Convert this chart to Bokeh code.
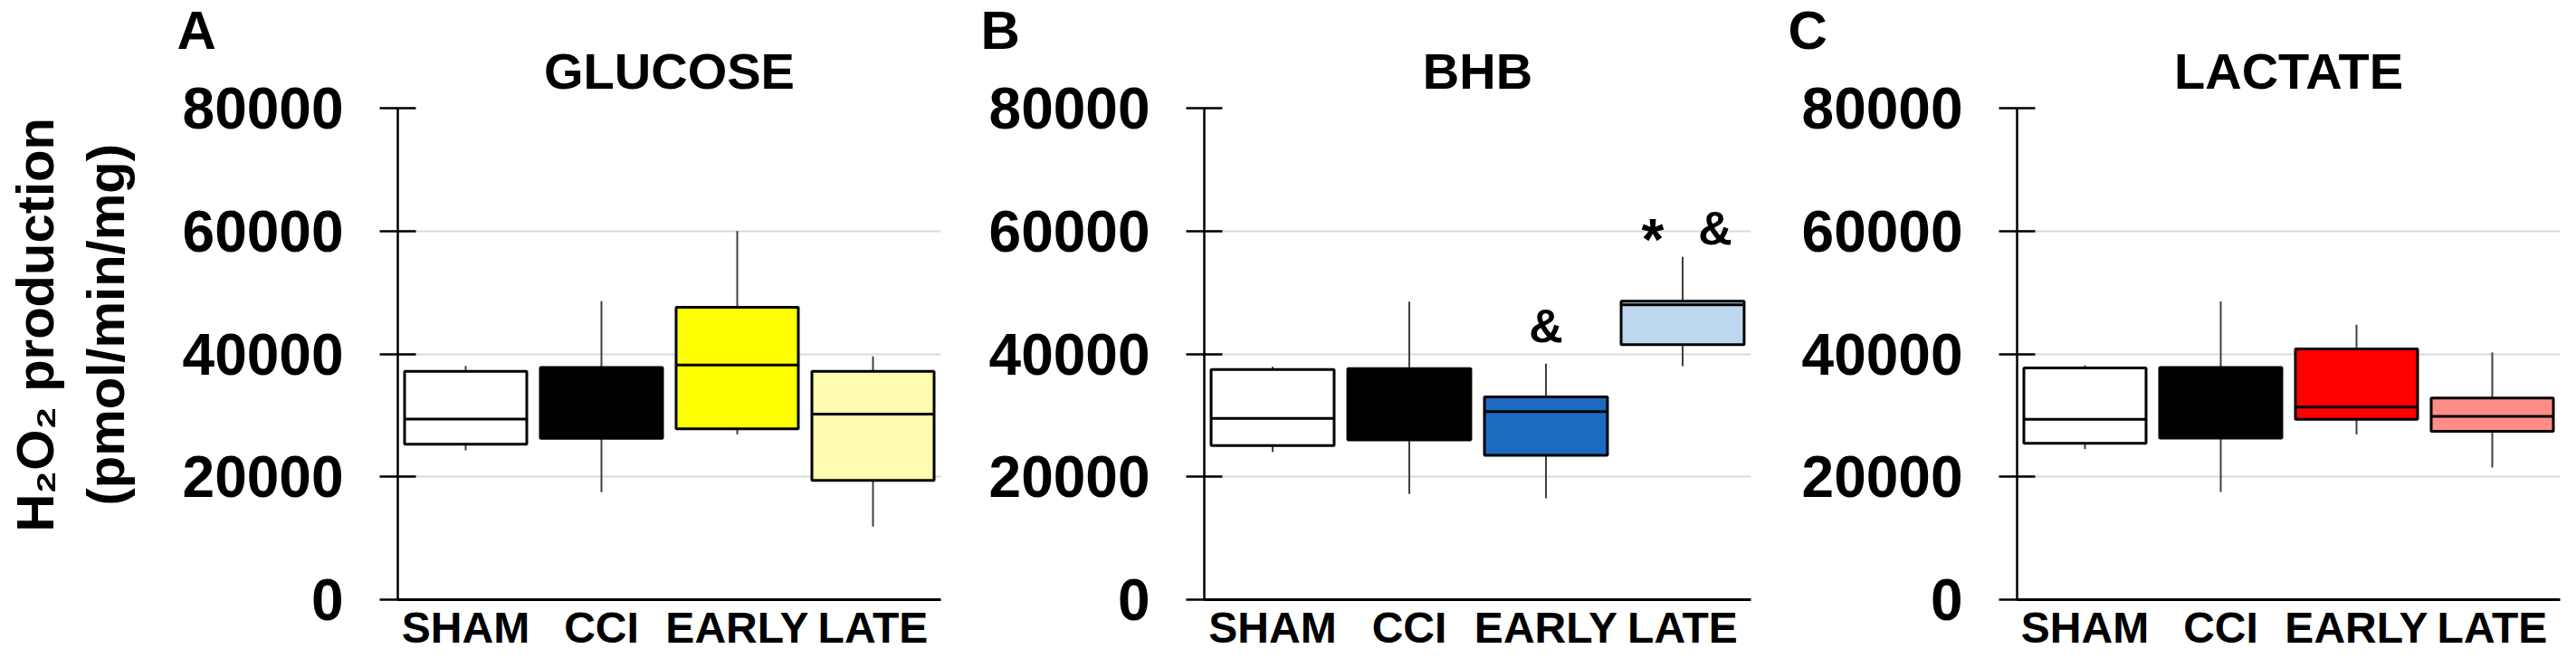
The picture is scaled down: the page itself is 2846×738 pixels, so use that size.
from bokeh.plotting import figure
from bokeh.models import ColumnDataSource, Range1d, FactorRange, FixedTicker, Title
from bokeh.layouts import row
from bokeh.embed import file_html
from bokeh.resources import INLINE
from bokeh.core.properties import value

# ---------------- data ----------------
groups = ["SHAM", "CCI", "EARLY", "LATE"]
y_ticks = [0, 20000, 40000, 60000, 80000]

glucose_low = [24300, 17500, 26900, 11900]
glucose_q1 = [25300, 26250, 27800, 19400]
glucose_med = [29400, 31000, 38200, 30200]
glucose_q3 = [37150, 37800, 47600, 37150]
glucose_high = [38050, 48600, 60000, 39600]
glucose_colors = ["#FFFFFF", "#000000", "#FFFF00", "#FFFBAF"]

bhb_low = [24050, 17200, 16500, 38000]
bhb_q1 = [25100, 26000, 23500, 41500]
bhb_med = [29500, 31000, 30600, 48000]
bhb_q3 = [37450, 37600, 33000, 48600]
bhb_high = [37900, 48500, 38400, 55800]
bhb_colors = ["#FFFFFF", "#000000", "#1C6BC2", "#BDD7EE"]

lactate_low = [24500, 17550, 26900, 21500]
lactate_q1 = [25450, 26300, 29350, 27400]
lactate_med = [29350, 31000, 31350, 29850]
lactate_q3 = [37700, 37800, 40800, 32800]
lactate_high = [38150, 48550, 44750, 40250]
lactate_colors = ["#FFFFFF", "#000000", "#FF0000", "#FF8C86"]

# significance marks (panel B)
amp_groups = ["EARLY", "LATE"]
amp_y = [44600, 60500]
amp_dx = [0, 36]
star_groups = ["LATE"]
star_y = [58600]
star_dx = [-33]

FONT = "Liberation Sans"
FIG_H = 722
BORDER_TOP = 119
BORDER_BOTTOM = 60
PAD = "\u00a0" * 4  # nudges the centred, rotated axis label upwards


def make_panel(letter, title, low, q1, med, q3, high, colors, width, left, right,
               ylabel=None, letter_offset=-245):
    p = figure(width=width, height=FIG_H, x_range=FactorRange(*groups),
               y_range=Range1d(0, 80000), output_backend="svg",
               toolbar_location=None, min_border_left=left,
               min_border_right=right, min_border_top=BORDER_TOP,
               min_border_bottom=BORDER_BOTTOM)
    p.outline_line_color = None
    p.background_fill_color = "white"
    p.border_fill_color = "white"

    src = ColumnDataSource(dict(g=groups, low=low, q1=q1, med=med, q3=q3,
                                high=high, c=colors))
    p.segment(x0="g", x1="g", y0="low", y1="high", source=src,
              line_color="#404040", line_width=2)
    p.vbar(x="g", width=0.9, bottom="q1", top="q3", source=src,
           fill_color="c", line_color="black", line_width=3)
    p.vbar(x="g", width=0.9, bottom="med", top="med", source=src,
           fill_color=None, line_color="black", line_width=3)

    p.xgrid.grid_line_color = None
    p.ygrid.grid_line_color = "#D9D9D9"
    p.ygrid.grid_line_width = 2

    p.yaxis.ticker = FixedTicker(ticks=y_ticks)
    p.yaxis.major_label_overrides = {t: str(t) for t in y_ticks}
    p.yaxis.axis_line_width = 2.5
    p.yaxis.major_tick_line_width = 2.5
    p.yaxis.major_tick_in = 20
    p.yaxis.major_tick_out = 20
    p.yaxis.minor_tick_line_color = None
    p.yaxis.major_label_standoff = 40
    p.yaxis.major_label_text_font = FONT
    p.yaxis.major_label_text_font_style = "bold"
    p.yaxis.major_label_text_font_size = "64px"
    p.yaxis.major_label_text_color = "black"

    p.xaxis.axis_line_width = 3
    p.xaxis.major_tick_line_color = None
    p.xaxis.major_tick_out = 0
    p.xaxis.major_tick_in = 0
    p.xaxis.major_label_standoff = 4
    p.xaxis.major_label_text_font = FONT
    p.xaxis.major_label_text_font_style = "bold"
    p.xaxis.major_label_text_font_size = "48px"
    p.xaxis.major_label_text_color = "black"

    if ylabel:
        p.yaxis.axis_label = ylabel
        p.yaxis.axis_label_text_font = FONT
        p.yaxis.axis_label_text_font_style = "bold"
        p.yaxis.axis_label_text_font_size = "58px"
        p.yaxis.axis_label_text_color = "black"
        p.yaxis.axis_label_standoff = 50

    # panel letter (outermost title); negative standoff lets it sit low
    p.title.text = letter
    p.title.align = "left"
    p.title.offset = letter_offset
    p.title.text_font = FONT
    p.title.text_font_style = "bold"
    p.title.text_font_size = "60px"
    p.title.text_color = "black"
    p.title.standoff = -64

    # substrate title (closest to the frame)
    p.add_layout(Title(text=title, align="center", text_font=FONT,
                       text_font_style="bold", text_font_size="56px",
                       text_color="black", standoff=20), "above")
    return p


pA = make_panel("A", "GLUCOSE", glucose_low, glucose_q1, glucose_med, glucose_q3,
                glucose_high, glucose_colors, 1052, 439, 13,
                ylabel=PAD + "H\u2082O\u2082 production\n" + PAD + "(pmol/min/mg)",
                letter_offset=-244)
pB = make_panel("B", "BHB", bhb_low, bhb_q1, bhb_med, bhb_q3, bhb_high,
                bhb_colors, 895, 278, 13, letter_offset=-247)
pC = make_panel("C", "LACTATE", lactate_low, lactate_q1, lactate_med, lactate_q3,
                lactate_high, lactate_colors, 883, 281, 2, letter_offset=-253)

asrc = ColumnDataSource(dict(g=amp_groups, y=amp_y, dx=amp_dx, t=["&"] * len(amp_groups)))
pB.text(x="g", y="y", text="t", source=asrc, x_offset="dx",
        text_align="center", text_baseline="middle",
        text_font=value(FONT), text_font_style="bold",
        text_font_size="52px", text_color="black")
ssrc = ColumnDataSource(dict(g=star_groups, y=star_y, dx=star_dx, t=["*"] * len(star_groups)))
pB.text(x="g", y="y", text="t", source=ssrc, x_offset="dx",
        text_align="center", text_baseline="middle",
        text_font=value(FONT), text_font_style="bold",
        text_font_size="64px", text_color="black")

layout = row(pA, pB, pC)
open("out.html", "w").write(file_html(layout, INLINE))
